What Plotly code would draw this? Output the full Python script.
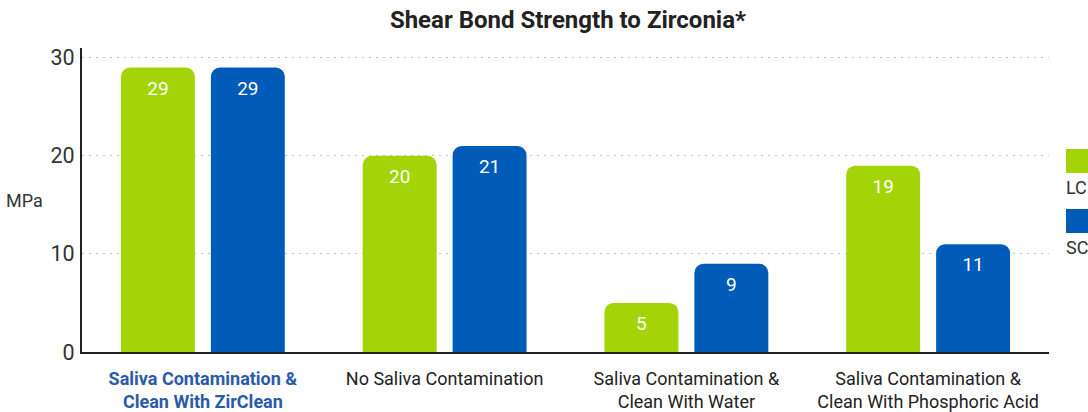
import plotly.graph_objects as go

categories = [
    "Saliva Contamination &<br>Clean With ZirClean",
    "No Saliva Contamination",
    "Saliva Contamination &<br>Clean With Water",
    "Saliva Contamination &<br>Clean With Phosphoric Acid",
]
lc_values = [29, 20, 5, 19]
sc_values = [29, 21, 9, 11]
series_names = ["LC", "SC"]
y_ticks = [0, 10, 20, 30]

GREEN = "#a4d307"
BLUE = "#005bb9"
FONT = "Roboto, Liberation Sans, Arial, sans-serif"

x_idx = list(range(len(categories)))
ticktext = []
for i, c in enumerate(categories):
    if i == 0:
        ticktext.append("<span style='color:#2a5ba8'><b>" + c.replace("<br>", "</b><br><b>") + "</b></span>")
    else:
        ticktext.append(c)

fig = go.Figure()
for name, vals, col in [(series_names[0], lc_values, GREEN), (series_names[1], sc_values, BLUE)]:
    fig.add_trace(go.Bar(
        x=x_idx, y=vals, name=name, marker=dict(color=col, line=dict(width=0)),
        text=[str(v) for v in vals], textposition="inside", insidetextanchor="end",
        textfont=dict(color="white", size=19, family=FONT), textangle=0,
        showlegend=False, hoverinfo="skip",
    ))

fig.update_layout(
    width=1088, height=412,
    margin=dict(l=82, r=39, t=48, b=60),
    paper_bgcolor="white", plot_bgcolor="white",
    barmode="group", bargap=0.256, bargroupgap=0.178, barcornerradius=9,
    title=dict(text="<b>Shear Bond Strength to Zirconia*</b>", x=0.522, xanchor="center",
               y=0.952, yanchor="middle", font=dict(size=24, color="#222222", family=FONT)),
    font=dict(family=FONT, color="#333333"),
    uniformtext=dict(mode=False),
)
fig.update_xaxes(
    tickmode="array", tickvals=x_idx, ticktext=ticktext, range=[-0.5, 3.5],
    showline=True, linecolor="#222222", linewidth=2, showgrid=False, ticks="",
    tickfont=dict(size=18, color="#222222", family=FONT), zeroline=False,
    automargin=False, ticklabelstandoff=9,
)
fig.update_yaxes(
    range=[0, 31], tickmode="array", tickvals=y_ticks,
    showline=True, linecolor="#222222", linewidth=2,
    showgrid=True, gridcolor="#c4c4c4", griddash="2px,5px", gridwidth=1,
    zeroline=False, ticks="", ticklabelstandoff=1, automargin=False,
    tickfont=dict(size=21.5, color="#333333", family=FONT),
)

fig.add_annotation(text="MPa", xref="paper", yref="paper", x=(24 - 82) / 967, y=(352 - 200) / 304,
                   xanchor="center", yanchor="middle", showarrow=False,
                   font=dict(size=18, color="#333333", family=FONT))

# custom legend at right edge
legend_items = [(series_names[0], GREEN, 149, 187), (series_names[1], BLUE, 209, 247)]
for name, col, ytop, ytext in legend_items:
    fig.add_shape(type="rect", xref="paper", yref="paper",
                  x0=(1066 - 82) / 967, x1=(1095 - 82) / 967,
                  y0=(352 - ytop - 24) / 304, y1=(352 - ytop) / 304,
                  fillcolor=col, line=dict(width=0), layer="above")
    fig.add_annotation(text=name, xref="paper", yref="paper",
                       x=(1064 - 82) / 967, y=(352 - ytext) / 304,
                       xanchor="left", yanchor="middle", showarrow=False,
                       font=dict(size=18, color="#333333", family=FONT))

fig.write_html("out.html", config={"displayModeBar": False, "staticPlot": True})

# remove default browser body margin so the figure sits at the page origin
with open("out.html", "r", encoding="utf-8") as f:
    html = f.read()
html = html.replace("<head>", "<head><style>html,body{margin:0;padding:0;overflow:hidden;}</style>", 1)
with open("out.html", "w", encoding="utf-8") as f:
    f.write(html)
